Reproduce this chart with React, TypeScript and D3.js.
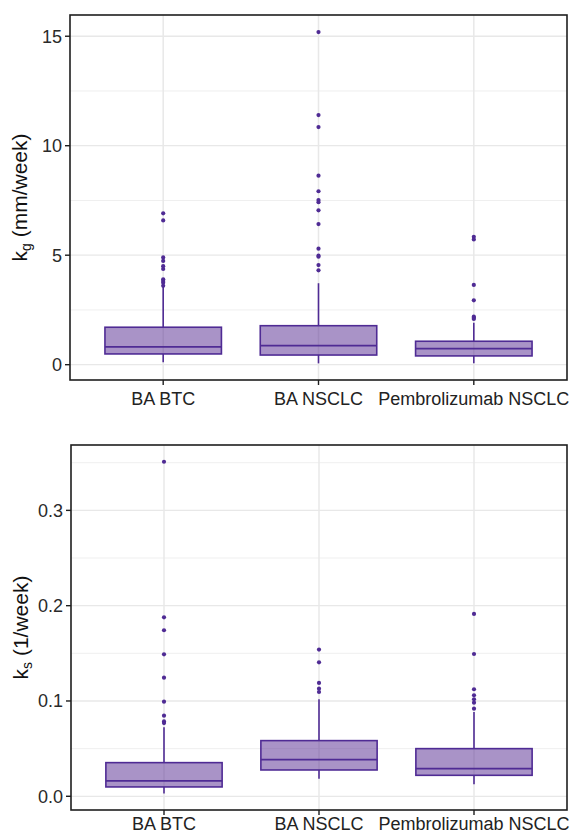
import React from "react";
import * as d3 from "d3";

// groups on the x axis
const groups = ["BA BTC", "BA NSCLC", "Pembrolizumab NSCLC"];

// kg (mm/week) box stats
const kgLow = [0.11, 0.06, 0.06];
const kgQ1 = [0.49, 0.44, 0.40];
const kgMed = [0.81, 0.87, 0.73];
const kgQ3 = [1.71, 1.78, 1.07];
const kgHigh = [3.56, 3.72, 1.92];
const kgOut = [
  [6.91, 6.59, 4.90, 4.74, 4.50, 4.37, 3.90, 3.82, 3.74, 3.60],
  [15.19, 11.40, 10.85, 8.63, 7.92, 7.52, 7.42, 7.05, 6.42, 5.30, 4.98, 4.93, 4.55, 4.31],
  [5.84, 5.72, 3.64, 2.94, 2.19, 2.14, 2.09],
];
const kgTicks = [0, 5, 10, 15];
const kgMinor = [2.5, 7.5, 12.5];

// ks (1/week) box stats
const ksLow = [0.003, 0.0185, 0.0126];
const ksQ1 = [0.0098, 0.0276, 0.022];
const ksMed = [0.0161, 0.0384, 0.029];
const ksQ3 = [0.0353, 0.0584, 0.05];
const ksHigh = [0.0724, 0.1018, 0.0885];
const ksOut = [
  [0.351, 0.1878, 0.1742, 0.149, 0.1245, 0.0993, 0.0846, 0.0785, 0.0768],
  [0.1539, 0.1406, 0.1189, 0.1129, 0.1094],
  [0.1913, 0.1493, 0.1123, 0.106, 0.1018, 0.0982, 0.0919],
];
const ksTicks = [0, 0.1, 0.2, 0.3];
const ksMinor = [0.05, 0.15, 0.25, 0.35];

const purple = "#4f2b94";
const font = "'Liberation Sans', Arial, Helvetica, sans-serif";

const Panel = ({ left, top, right, bottom, domain, ticks, minor, fmt, stats, outliers, sub, unit, labelGap }: any) => {
  const x = d3.scalePoint<string>().domain(groups).range([left, right]).padding(0.6);
  const y = d3.scaleLinear().domain(domain).range([bottom, top]);
  const bw = x.step() * 0.75;
  const [low, q1, med, q3, high] = stats;
  const cy = (top + bottom) / 2;
  return (
    <g>
      {minor.map((t: number) => (
        <line key={"m" + t} x1={left} x2={right} y1={y(t)} y2={y(t)} stroke="#efefef" strokeWidth={1} />
      ))}
      {ticks.map((t: number) => (
        <line key={"g" + t} x1={left} x2={right} y1={y(t)} y2={y(t)} stroke="#e8e8e8" strokeWidth={1.3} />
      ))}
      {groups.map((g) => (
        <line key={"v" + g} x1={x(g)} x2={x(g)} y1={top} y2={bottom} stroke="#e8e8e8" strokeWidth={1.5} />
      ))}
      {groups.map((g, i) => {
        const cx = x(g)!;
        return (
          <g key={g}>
            <line x1={cx} x2={cx} y1={y(low[i])} y2={y(q1[i])} stroke={purple} strokeWidth={1.6} />
            <line x1={cx} x2={cx} y1={y(q3[i])} y2={y(high[i])} stroke={purple} strokeWidth={1.6} />
            <rect x={cx - bw / 2} width={bw} y={y(q3[i])} height={y(q1[i]) - y(q3[i])}
              fill="#54278f" fillOpacity={0.5} stroke={purple} strokeWidth={1.6} />
            <line x1={cx - bw / 2} x2={cx + bw / 2} y1={y(med[i])} y2={y(med[i])} stroke={purple} strokeWidth={1.8} />
            {outliers[i].map((v: number, j: number) => (
              <circle key={j} cx={cx} cy={y(v)} r={2.1} fill={purple} />
            ))}
          </g>
        );
      })}
      <rect x={left} y={top} width={right - left} height={bottom - top} fill="none" stroke="#1e1e1e" strokeWidth={1.6} />
      {ticks.map((t: number) => (
        <g key={"t" + t}>
          <line x1={left - 5} x2={left} y1={y(t)} y2={y(t)} stroke="#1e1e1e" strokeWidth={1.4} />
          <text x={left - 8} y={y(t)} dy="0.36em" textAnchor="end" fontSize={18} fill="#2a2a2a">{fmt(t)}</text>
        </g>
      ))}
      {groups.map((g) => (
        <g key={"x" + g}>
          <line x1={x(g)} x2={x(g)} y1={bottom} y2={bottom + 5} stroke="#1e1e1e" strokeWidth={1.4} />
          <text x={x(g)} y={bottom + labelGap} textAnchor="middle" fontSize={18} fill="#222">{g}</text>
        </g>
      ))}
      <text transform={`translate(${left - 43},${cy}) rotate(-90)`} textAnchor="middle" fontSize={21} fill="#111">
        k<tspan fontSize={14} dy={4}>{sub}</tspan><tspan dy={-4}>{" " + unit}</tspan>
      </text>
    </g>
  );
};

export default function App() {
  return (
    <svg width={576} height={835} style={{ position: "absolute", left: 0, top: 0, fontFamily: font, background: "#fff" }}>
      <Panel left={70} top={15} right={567} bottom={380} domain={[-0.7, 15.97]}
        ticks={kgTicks} minor={kgMinor} fmt={(t: number) => d3.format("d")(t)}
        stats={[kgLow, kgQ1, kgMed, kgQ3, kgHigh]} outliers={kgOut} sub="g" unit="(mm/week)" labelGap={25} />
      <Panel left={71} top={445} right={567} bottom={810} domain={[-0.0144, 0.3686]}
        ticks={ksTicks} minor={ksMinor} fmt={(t: number) => d3.format(".1f")(t)}
        stats={[ksLow, ksQ1, ksMed, ksQ3, ksHigh]} outliers={ksOut} sub="s" unit="(1/week)" labelGap={20} />
    </svg>
  );
}
